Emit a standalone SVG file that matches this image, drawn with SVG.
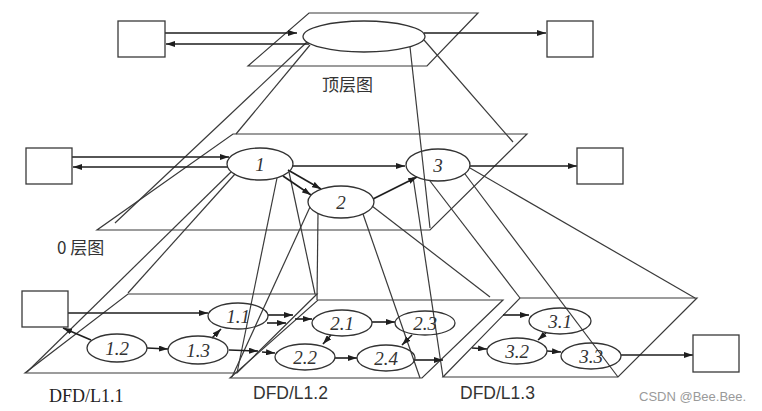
<svg xmlns="http://www.w3.org/2000/svg" width="762" height="411" viewBox="0 0 762 411">
<style>
.plane{fill:none;stroke:#3a3a3a;stroke-width:1.2}
.proj{fill:none;stroke:#3a3a3a;stroke-width:1.2}
.arr{fill:none;stroke:#1e1e1e;stroke-width:1.6;marker-end:url(#ah)}
.box{fill:#fff;stroke:#3a3a3a;stroke-width:1.3}
.ell{fill:none;stroke:#333;stroke-width:1.3}
.lbl{font-family:"Liberation Serif",serif;font-style:italic;font-size:19px;fill:#333;text-anchor:middle}
.cap{font-family:"Noto Sans CJK SC","Liberation Sans",sans-serif;font-size:17px;fill:#333}
.dfds{font-family:"Liberation Serif",serif;font-size:18px;fill:#222}
.dfd{font-family:"Liberation Sans",sans-serif;font-size:17.5px;fill:#333}
.wm{font-family:"Liberation Sans",sans-serif;font-size:13px;fill:#9a9a9a}
</style>
<defs>
<marker id="ah" viewBox="0 0 9 6" refX="9" refY="3" markerWidth="9" markerHeight="6" orient="auto" markerUnits="userSpaceOnUse">
<path d="M0,0 L9,3 L0,6 z" fill="#1e1e1e"/>
</marker>
</defs>
<rect width="762" height="411" fill="#fff"/>

<g id="planes">
<polygon class="plane" points="309,13 478,13 427,66 248,66"/>
<polygon class="plane" points="233,134 527,134 430,230 97,230"/>
<polygon class="plane" points="128,294 317,294 237,373 25,373"/>
<polygon class="plane" points="318,300 503,300 422,378 230,378"/>
<polygon class="plane" points="520,298 697,298 618,377 443,377"/>
</g>

<g id="projections">
<path class="proj" d="M307,42 L115,223"/>
<path class="proj" d="M310,45 L236,134"/>
<path class="proj" d="M410,47 L430,228"/>
<path class="proj" d="M424,40 L513,142"/>
<path class="proj" d="M231,172 L27,372"/>
<path class="proj" d="M235,174 L128,293"/>
<path class="proj" d="M277,178 L237,373"/>
<path class="proj" d="M289,172 L315,294"/>
<path class="proj" d="M310,207 L232,377"/>
<path class="proj" d="M318,213 L317,300"/>
<path class="proj" d="M363,214 L420,378"/>
<path class="proj" d="M372,206 L490,297"/>
<path class="proj" d="M413,177 L443,377"/>
<path class="proj" d="M430,181 L520,298"/>
<path class="proj" d="M465,174 L618,377"/>
<path class="proj" d="M470,168 L695,298"/>
</g>

<g id="connectors">
<path class="arr" d="M165,33 L297,33"/>
<path class="arr" d="M309,44 L166,44"/>
<path class="arr" d="M424,33 L546,33"/>
<path class="arr" d="M72,157 L229,157"/>
<path class="arr" d="M228,167 L73,167"/>
<path class="arr" d="M292,166 L405,166"/>
<path class="arr" d="M288,170 L321,189"/>
<path class="arr" d="M283,176 L311,195"/>
<path class="arr" d="M373,199 L417,177"/>
<path class="arr" d="M470,166 L577,166"/>
<path class="arr" d="M68,313 L208,313"/>
<path class="arr" d="M91,340 L63,328"/>
<path class="arr" d="M147,348 L168,349"/>
<path class="arr" d="M212,338 L221,329"/>
<path class="arr" d="M268,315 L293,315"/>
<path class="arr" d="M267,323 L286,323"/>
<path class="arr" d="M295,319 L312,319"/>
<path class="arr" d="M229,350 L258,351"/>
<path class="arr" d="M262,352 L275,353"/>
<path class="arr" d="M372,322 L395,322"/>
<path class="arr" d="M331,335 L323,344"/>
<path class="arr" d="M335,358 L357,358"/>
<path class="arr" d="M412,335 L402,345"/>
<path class="arr" d="M415,360 L443,360"/>
<path class="arr" d="M503,315 L529,315"/>
<path class="arr" d="M472,348 L487,349"/>
<path class="arr" d="M547,351 L561,352"/>
<path class="arr" d="M546,333 L538,340"/>
<path class="arr" d="M621,355 L693,355"/>
</g>

<g id="top-src"><rect class="box" x="118" y="21" width="47" height="36"/></g>
<g id="top-dst"><rect class="box" x="547" y="21" width="46" height="36"/></g>
<g id="top-proc"><ellipse class="ell" cx="364" cy="36.5" rx="61" ry="15.5"/></g>
<g id="top-label"><text class="cap" x="322" y="91" font-size="18">顶层图</text></g>

<g id="l0-src"><rect class="box" x="26" y="148" width="46" height="36"/></g>
<g id="l0-dst"><rect class="box" x="577" y="148" width="46" height="36"/></g>
<g id="p1"><ellipse class="ell" cx="260" cy="164" rx="33" ry="16"/><text class="lbl" x="260" y="171">1</text></g>
<g id="p2"><ellipse class="ell" cx="341" cy="202" rx="33" ry="16"/><text class="lbl" x="341" y="209">2</text></g>
<g id="p3"><ellipse class="ell" cx="438" cy="165" rx="32" ry="16"/><text class="lbl" x="438" y="172">3</text></g>
<g id="l0-label"><text class="cap" x="57" y="254">0 层图</text></g>

<g id="l1-src"><rect class="box" x="22" y="291" width="46" height="36"/></g>
<g id="l1-dst"><rect class="box" x="693" y="335" width="46" height="37"/></g>
<g id="p1-1"><ellipse class="ell" cx="238" cy="316" rx="30" ry="13"/><text class="lbl" x="238" y="323">1.1</text></g>
<g id="p1-2"><ellipse class="ell" cx="117" cy="348" rx="30" ry="14"/><text class="lbl" x="117" y="355">1.2</text></g>
<g id="p1-3"><ellipse class="ell" cx="198" cy="350" rx="30" ry="14"/><text class="lbl" x="198" y="357">1.3</text></g>
<g id="p2-1"><ellipse class="ell" cx="342" cy="323" rx="30" ry="13"/><text class="lbl" x="342" y="330">2.1</text></g>
<g id="p2-2"><ellipse class="ell" cx="305" cy="357" rx="30" ry="13"/><text class="lbl" x="305" y="364">2.2</text></g>
<g id="p2-3"><ellipse class="ell" cx="425" cy="323" rx="30" ry="12"/><text class="lbl" x="425" y="330">2.3</text></g>
<g id="p2-4"><ellipse class="ell" cx="386" cy="358" rx="29" ry="13"/><text class="lbl" x="386" y="365">2.4</text></g>
<g id="p3-1"><ellipse class="ell" cx="560" cy="321" rx="31" ry="13"/><text class="lbl" x="560" y="328">3.1</text></g>
<g id="p3-2"><ellipse class="ell" cx="517" cy="351" rx="30" ry="13"/><text class="lbl" x="517" y="358">3.2</text></g>
<g id="p3-3"><ellipse class="ell" cx="591" cy="356" rx="30" ry="13"/><text class="lbl" x="591" y="363">3.3</text></g>

<g id="l1-labels">
<text class="dfds" x="49" y="402">DFD/L1.1</text>
<text class="dfd" x="253" y="399">DFD/L1.2</text>
<text class="dfd" x="460" y="399">DFD/L1.3</text>
</g>
<text class="wm" x="639" y="401">CSDN @Bee.Bee.</text>
</svg>
